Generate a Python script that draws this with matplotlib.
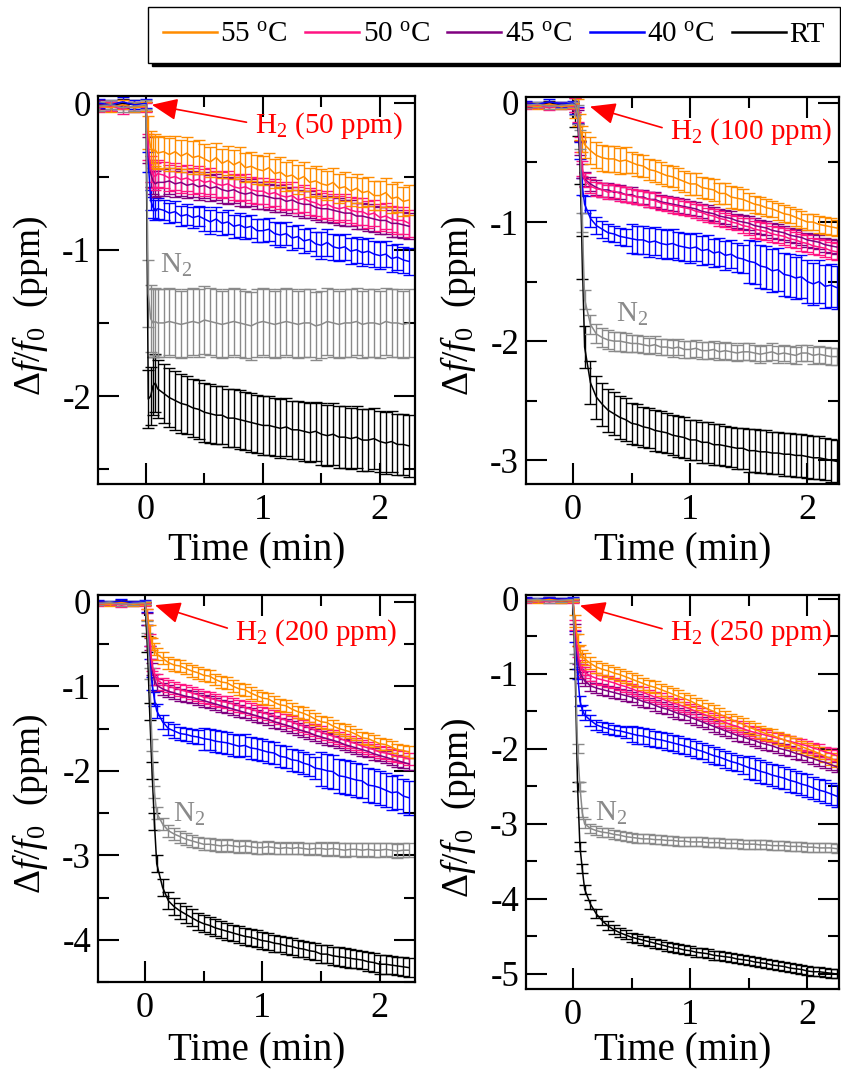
import numpy as np
import matplotlib
matplotlib.use('Agg')
import matplotlib.pyplot as plt
from matplotlib.lines import Line2D
from matplotlib.ticker import MultipleLocator

plt.rcParams['font.family'] = ['Liberation Serif', 'DejaVu Serif']
plt.rcParams['mathtext.fontset'] = 'custom'
plt.rcParams['mathtext.rm'] = 'Liberation Serif'
plt.rcParams['mathtext.it'] = 'Liberation Serif:italic'
plt.rcParams['mathtext.bf'] = 'Liberation Serif:bold'
plt.rcParams['axes.unicode_minus'] = False

# ---------------- data ----------------
T_PRE = [-0.40, -0.30, -0.20, -0.10, 0.00]
T_DROP = [0.02, 0.04, 0.06, 0.08, 0.10]
T_MAIN = [0.15, 0.20, 0.25, 0.30, 0.35, 0.40, 0.45, 0.50, 0.55, 0.60,
          0.65, 0.70, 0.75, 0.80, 0.85, 0.90, 0.95, 1.00, 1.05, 1.10,
          1.15, 1.20, 1.25, 1.30, 1.35, 1.40, 1.45, 1.50, 1.55, 1.60,
          1.65, 1.70, 1.75, 1.80, 1.85, 1.90, 1.95, 2.00, 2.05, 2.10,
          2.15, 2.20, 2.25]

PRE_55 = [-0.02, -0.03, -0.01, -0.03, -0.02]
PRE_50 = [-0.03, -0.02, -0.04, -0.02, -0.03]
PRE_45 = [-0.01, -0.02, -0.01, -0.03, -0.02]
PRE_40 = [0.00, -0.01, 0.01, -0.01, 0.00]
PRE_RT = [-0.01, -0.02, 0.00, -0.01, -0.02]
PRE_N2 = [-0.02, -0.01, -0.03, -0.02, -0.01]

# Panel 1: H2 50 ppm  (drop points + main points)
P1_55 = [-0.20, -0.30, -0.33, -0.32, -0.34,
         -0.33, -0.35, -0.33, -0.36, -0.34, -0.37, -0.36, -0.38, -0.40, -0.37,
         -0.41, -0.39, -0.42, -0.40, -0.44, -0.43, -0.45, -0.46, -0.44, -0.48,
         -0.47, -0.50, -0.49, -0.52, -0.50, -0.54, -0.53, -0.55, -0.56, -0.54,
         -0.58, -0.57, -0.60, -0.58, -0.61, -0.60, -0.63, -0.63, -0.61, -0.65,
         -0.64, -0.67, -0.66]
P1_50 = [-0.30, -0.45, -0.49, -0.50, -0.48,
         -0.49, -0.51, -0.50, -0.52, -0.51, -0.53, -0.52, -0.54, -0.53, -0.55,
         -0.56, -0.55, -0.57, -0.58, -0.57, -0.59, -0.60, -0.60, -0.62, -0.61,
         -0.63, -0.64, -0.63, -0.66, -0.65, -0.67, -0.68, -0.70, -0.69, -0.71,
         -0.72, -0.71, -0.73, -0.74, -0.74, -0.76, -0.75, -0.78, -0.77, -0.79,
         -0.80, -0.80, -0.82]
P1_45 = [-0.32, -0.48, -0.53, -0.55, -0.54,
         -0.54, -0.53, -0.55, -0.54, -0.56, -0.55, -0.57, -0.56, -0.58, -0.57,
         -0.59, -0.60, -0.59, -0.61, -0.62, -0.61, -0.63, -0.63, -0.64, -0.65,
         -0.65, -0.67, -0.66, -0.68, -0.69, -0.69, -0.71, -0.72, -0.72, -0.73,
         -0.74, -0.75, -0.75, -0.77, -0.77, -0.78, -0.79, -0.80, -0.80, -0.82,
         -0.82, -0.83, -0.84]
P1_40 = [-0.40, -0.66, -0.71, -0.73, -0.72,
         -0.73, -0.75, -0.74, -0.77, -0.76, -0.78, -0.77, -0.79, -0.81, -0.79,
         -0.82, -0.81, -0.84, -0.83, -0.85, -0.84, -0.87, -0.87, -0.86, -0.89,
         -0.90, -0.89, -0.92, -0.91, -0.94, -0.93, -0.96, -0.97, -0.95, -0.98,
         -0.99, -0.98, -1.01, -1.00, -1.02, -1.01, -1.03, -1.04, -1.03, -1.06,
         -1.05, -1.07, -1.08]
P1_RT = [-2.02, -2.00, -1.93, -1.91, -1.95,
         -1.98, -2.01, -2.03, -2.05, -2.06, -2.08, -2.09, -2.11, -2.12, -2.13,
         -2.13, -2.15, -2.15, -2.16, -2.17, -2.18, -2.19, -2.20, -2.20, -2.21,
         -2.22, -2.21, -2.23, -2.23, -2.24, -2.25, -2.24, -2.26, -2.27, -2.26,
         -2.28, -2.28, -2.29, -2.28, -2.30, -2.30, -2.29, -2.31, -2.32, -2.31,
         -2.33, -2.33, -2.34]
P1_N2 = [-1.30, -1.47, -1.50, -1.49, -1.50,
         -1.50, -1.49, -1.50, -1.51, -1.50, -1.49, -1.50, -1.48, -1.49, -1.50,
         -1.51, -1.50, -1.49, -1.50, -1.51, -1.52, -1.50, -1.49, -1.50, -1.51,
         -1.50, -1.49, -1.50, -1.51, -1.50, -1.50, -1.52, -1.51, -1.49, -1.50,
         -1.51, -1.50, -1.50, -1.49, -1.51, -1.50, -1.50, -1.51, -1.49, -1.50,
         -1.50, -1.51, -1.50]

# Panel 2: H2 100 ppm
P2_55 = [-0.02, -0.08, -0.20, -0.30, -0.35,
         -0.40, -0.44, -0.46, -0.47, -0.47, -0.49, -0.48, -0.50, -0.52, -0.53,
         -0.56, -0.57, -0.59, -0.61, -0.62, -0.64, -0.66, -0.68, -0.68, -0.71,
         -0.72, -0.73, -0.76, -0.76, -0.79, -0.80, -0.81, -0.83, -0.85, -0.86,
         -0.88, -0.89, -0.91, -0.93, -0.94, -0.96, -0.98, -1.00, -1.00, -1.02,
         -1.03, -1.04, -1.05]
P2_50 = [-0.02, -0.10, -0.35, -0.55, -0.65,
         -0.70, -0.72, -0.73, -0.75, -0.74, -0.76, -0.77, -0.78, -0.79, -0.80,
         -0.81, -0.82, -0.84, -0.85, -0.86, -0.87, -0.88, -0.89, -0.91, -0.92,
         -0.94, -0.95, -0.97, -0.98, -1.00, -1.01, -1.03, -1.04, -1.06, -1.07,
         -1.08, -1.10, -1.11, -1.12, -1.14, -1.15, -1.17, -1.18, -1.20, -1.21,
         -1.22, -1.24, -1.25]
P2_45 = [-0.02, -0.12, -0.38, -0.57, -0.64,
         -0.68, -0.71, -0.73, -0.73, -0.75, -0.75, -0.77, -0.77, -0.79, -0.79,
         -0.81, -0.81, -0.83, -0.84, -0.85, -0.86, -0.87, -0.88, -0.89, -0.91,
         -0.92, -0.93, -0.95, -0.96, -0.97, -0.99, -1.00, -1.01, -1.03, -1.04,
         -1.05, -1.07, -1.08, -1.09, -1.11, -1.12, -1.13, -1.15, -1.16, -1.17,
         -1.19, -1.20, -1.21]
P2_40 = [-0.02, -0.10, -0.40, -0.70, -0.85,
         -0.97, -1.03, -1.06, -1.09, -1.10, -1.12, -1.13, -1.14, -1.15, -1.15,
         -1.17, -1.16, -1.18, -1.19, -1.18, -1.20, -1.21, -1.22, -1.21, -1.24,
         -1.23, -1.26, -1.25, -1.28, -1.27, -1.30, -1.31, -1.33, -1.34, -1.37,
         -1.38, -1.41, -1.40, -1.44, -1.45, -1.47, -1.46, -1.50, -1.52, -1.50,
         -1.54, -1.53, -1.55]
P2_RT = [-0.02, -0.10, -0.50, -1.30, -2.05,
         -2.35, -2.47, -2.53, -2.58, -2.61, -2.64, -2.66, -2.69, -2.70, -2.72,
         -2.73, -2.75, -2.76, -2.77, -2.79, -2.80, -2.81, -2.83, -2.83, -2.85,
         -2.85, -2.87, -2.87, -2.88, -2.89, -2.90, -2.90, -2.92, -2.92, -2.93,
         -2.93, -2.94, -2.94, -2.95, -2.95, -2.96, -2.96, -2.97, -2.98, -2.98,
         -2.99, -3.00, -3.01]
P2_N2 = [-0.02, -0.10, -0.31, -1.00, -1.65,
         -1.86, -1.94, -1.97, -1.99, -2.00, -2.00, -2.01, -2.02, -2.02, -2.03,
         -2.04, -2.03, -2.05, -2.05, -2.06, -2.05, -2.07, -2.07, -2.06, -2.08,
         -2.08, -2.07, -2.09, -2.08, -2.09, -2.10, -2.09, -2.09, -2.10, -2.11,
         -2.10, -2.09, -2.11, -2.10, -2.11, -2.12, -2.10, -2.10, -2.12, -2.11,
         -2.12, -2.13, -2.13]

# Panel 3: H2 200 ppm
P3_55 = [-0.15, -0.35, -0.50, -0.56, -0.62,
         -0.67, -0.72, -0.75, -0.76, -0.79, -0.82, -0.84, -0.87, -0.88, -0.92,
         -0.95, -0.96, -1.00, -1.03, -1.04, -1.08, -1.11, -1.14, -1.15, -1.19,
         -1.22, -1.23, -1.27, -1.30, -1.32, -1.35, -1.39, -1.42, -1.43, -1.47,
         -1.50, -1.52, -1.54, -1.57, -1.61, -1.62, -1.65, -1.68, -1.69, -1.72,
         -1.75, -1.76, -1.78]
P3_50 = [-0.15, -0.45, -0.75, -0.85, -0.92,
         -0.97, -1.00, -1.02, -1.04, -1.06, -1.08, -1.10, -1.13, -1.14, -1.16,
         -1.18, -1.19, -1.21, -1.23, -1.25, -1.27, -1.29, -1.31, -1.33, -1.35,
         -1.38, -1.40, -1.42, -1.45, -1.47, -1.49, -1.52, -1.54, -1.57, -1.59,
         -1.61, -1.64, -1.66, -1.68, -1.71, -1.73, -1.75, -1.78, -1.79, -1.81,
         -1.83, -1.84, -1.86]
P3_45 = [-0.20, -0.50, -0.80, -0.92, -0.99,
         -1.03, -1.06, -1.08, -1.10, -1.12, -1.13, -1.15, -1.17, -1.19, -1.21,
         -1.23, -1.25, -1.27, -1.29, -1.31, -1.33, -1.35, -1.37, -1.39, -1.42,
         -1.44, -1.46, -1.48, -1.51, -1.53, -1.55, -1.58, -1.60, -1.62, -1.64,
         -1.66, -1.69, -1.71, -1.73, -1.75, -1.77, -1.80, -1.82, -1.84, -1.86,
         -1.88, -1.90, -1.92]
P3_40 = [-0.20, -0.60, -0.97, -1.15, -1.29,
         -1.42, -1.50, -1.53, -1.56, -1.57, -1.59, -1.60, -1.62, -1.63, -1.65,
         -1.66, -1.67, -1.69, -1.71, -1.70, -1.73, -1.74, -1.76, -1.78, -1.79,
         -1.83, -1.84, -1.87, -1.88, -1.91, -1.93, -1.97, -1.98, -2.00, -2.01,
         -2.06, -2.07, -2.09, -2.11, -2.12, -2.17, -2.18, -2.20, -2.23, -2.26,
         -2.25, -2.30, -2.32]
P3_RT = [-0.50, -1.30, -2.00, -2.60, -3.10,
         -3.38, -3.54, -3.61, -3.66, -3.70, -3.74, -3.78, -3.81, -3.83, -3.86,
         -3.88, -3.90, -3.92, -3.94, -3.96, -3.97, -3.99, -4.01, -4.02, -4.04,
         -4.05, -4.07, -4.08, -4.10, -4.11, -4.13, -4.14, -4.17, -4.17, -4.19,
         -4.20, -4.21, -4.22, -4.23, -4.24, -4.26, -4.27, -4.29, -4.29, -4.30,
         -4.31, -4.32, -4.33]
P3_N2 = [-0.30, -0.85, -1.70, -2.25, -2.50,
         -2.63, -2.71, -2.75, -2.78, -2.81, -2.83, -2.85, -2.87, -2.87, -2.88,
         -2.89, -2.88, -2.89, -2.90, -2.89, -2.90, -2.91, -2.91, -2.90, -2.91,
         -2.92, -2.91, -2.92, -2.91, -2.92, -2.93, -2.92, -2.92, -2.93, -2.92,
         -2.93, -2.94, -2.93, -2.93, -2.94, -2.93, -2.94, -2.94, -2.93, -2.94,
         -2.95, -2.94, -2.94]

# Panel 4: H2 250 ppm
P4_55 = [-0.30, -0.55, -0.70, -0.76, -0.80,
         -0.86, -0.91, -0.94, -0.96, -0.99, -1.01, -1.04, -1.07, -1.10, -1.13,
         -1.16, -1.18, -1.21, -1.24, -1.27, -1.30, -1.33, -1.36, -1.40, -1.43,
         -1.47, -1.50, -1.54, -1.57, -1.61, -1.64, -1.67, -1.71, -1.74, -1.77,
         -1.80, -1.82, -1.85, -1.88, -1.91, -1.94, -1.97, -2.00, -2.03, -2.06,
         -2.10, -2.13, -2.16]
P4_50 = [-0.35, -0.70, -0.88, -0.94, -0.98,
         -1.03, -1.06, -1.08, -1.10, -1.12, -1.15, -1.17, -1.20, -1.23, -1.25,
         -1.28, -1.31, -1.33, -1.36, -1.39, -1.41, -1.44, -1.47, -1.50, -1.53,
         -1.56, -1.59, -1.62, -1.65, -1.68, -1.70, -1.73, -1.76, -1.78, -1.80,
         -1.82, -1.84, -1.86, -1.88, -1.90, -1.92, -1.94, -1.96, -1.99, -2.01,
         -2.04, -2.06, -2.09]
P4_45 = [-0.40, -0.80, -0.98, -1.05, -1.09,
         -1.16, -1.19, -1.21, -1.23, -1.25, -1.27, -1.29, -1.31, -1.34, -1.37,
         -1.39, -1.42, -1.45, -1.47, -1.50, -1.53, -1.55, -1.58, -1.61, -1.64,
         -1.67, -1.70, -1.73, -1.76, -1.79, -1.82, -1.84, -1.87, -1.89, -1.92,
         -1.94, -1.96, -1.99, -2.01, -2.03, -2.06, -2.08, -2.11, -2.13, -2.16,
         -2.18, -2.21, -2.24]
P4_40 = [-0.50, -1.00, -1.36, -1.48, -1.55,
         -1.62, -1.68, -1.71, -1.73, -1.75, -1.76, -1.78, -1.80, -1.82, -1.83,
         -1.85, -1.87, -1.88, -1.90, -1.92, -1.94, -1.96, -1.98, -2.01, -2.03,
         -2.06, -2.09, -2.11, -2.14, -2.17, -2.19, -2.22, -2.25, -2.27, -2.30,
         -2.32, -2.35, -2.37, -2.39, -2.42, -2.44, -2.47, -2.49, -2.52, -2.55,
         -2.57, -2.60, -2.63]
P4_RT = [-1.00, -2.50, -3.30, -3.60, -3.87,
         -4.07, -4.20, -4.29, -4.36, -4.41, -4.45, -4.48, -4.51, -4.53, -4.55,
         -4.57, -4.59, -4.61, -4.63, -4.65, -4.66, -4.68, -4.69, -4.71, -4.72,
         -4.73, -4.75, -4.76, -4.77, -4.78, -4.80, -4.81, -4.82, -4.84, -4.85,
         -4.86, -4.88, -4.89, -4.90, -4.92, -4.93, -4.94, -4.96, -4.97, -4.97,
         -4.98, -4.99, -5.00]
P4_N2 = [-0.80, -2.00, -2.50, -2.85, -3.00,
         -3.06, -3.09, -3.11, -3.12, -3.14, -3.15, -3.17, -3.18, -3.19, -3.20,
         -3.20, -3.21, -3.21, -3.22, -3.22, -3.23, -3.23, -3.24, -3.24, -3.24,
         -3.25, -3.25, -3.25, -3.26, -3.26, -3.26, -3.27, -3.27, -3.27, -3.28,
         -3.28, -3.29, -3.29, -3.29, -3.30, -3.30, -3.30, -3.31, -3.31, -3.32,
         -3.32, -3.32, -3.33]

# error half-widths: (pre, t<0.5, 0.5<=t<1.5, t>=1.5)
E1 = {'55': (0.03, 0.11, 0.10, 0.10), '50': (0.03, 0.09, 0.09, 0.09),
      '45': (0.03, 0.09, 0.09, 0.09), '40': (0.03, 0.07, 0.08, 0.09),
      'RT': (0.03, 0.20, 0.20, 0.21), 'N2': (0.03, 0.23, 0.23, 0.23)}
E2 = {'55': (0.02, 0.11, 0.09, 0.07), '50': (0.02, 0.06, 0.06, 0.07),
      '45': (0.02, 0.06, 0.06, 0.06), '40': (0.02, 0.07, 0.12, 0.18),
      'RT': (0.02, 0.18, 0.17, 0.18), 'N2': (0.02, 0.08, 0.07, 0.07)}
E3 = {'55': (0.02, 0.07, 0.07, 0.07), '50': (0.02, 0.07, 0.07, 0.07),
      '45': (0.02, 0.07, 0.07, 0.07), '40': (0.02, 0.08, 0.13, 0.20),
      'RT': (0.02, 0.10, 0.10, 0.11), 'N2': (0.02, 0.07, 0.07, 0.08)}
E4 = {'55': (0.02, 0.08, 0.08, 0.08), '50': (0.02, 0.07, 0.07, 0.07),
      '45': (0.02, 0.07, 0.07, 0.07), '40': (0.02, 0.07, 0.11, 0.15),
      'RT': (0.02, 0.06, 0.06, 0.06), 'N2': (0.02, 0.06, 0.06, 0.06)}

CONC_LABELS = ['H$_{\\rm 2}$ (50 ppm)', 'H$_{\\rm 2}$ (100 ppm)',
               'H$_{\\rm 2}$ (200 ppm)', 'H$_{\\rm 2}$ (250 ppm)']
LEGEND_LABELS = ['55 $^{\\rm o}$C', '50 $^{\\rm o}$C', '45 $^{\\rm o}$C',
                 '40 $^{\\rm o}$C', 'RT']
Y_TICKS = [[0, -1, -2], [0, -1, -2, -3], [0, -1, -2, -3, -4], [0, -1, -2, -3, -4, -5]]
X_TICKS = [0, 1, 2]

# ---------------- style ----------------
COLORS = {'55': '#FF8C00', '50': '#FF1482', '45': '#800080',
          '40': '#0000FF', 'RT': '#000000', 'N2': '#8A8A8A'}
PRE = {'55': PRE_55, '50': PRE_50, '45': PRE_45, '40': PRE_40,
       'RT': PRE_RT, 'N2': PRE_N2}
PANELS = [
    dict(series={'55': P1_55, '50': P1_50, '45': P1_45, '40': P1_40, 'RT': P1_RT, 'N2': P1_N2},
         err=E1, rect=[98, 96, 415, 484], xlim=(-0.41, 2.30), ylim=(-2.60, 0.05),
         tip=(0.05, -0.01), txt=(0.93, -0.15), n2=(0.12, -1.16), xl=-0.125),
    dict(series={'55': P2_55, '50': P2_50, '45': P2_45, '40': P2_40, 'RT': P2_RT, 'N2': P2_N2},
         err=E2, rect=[526, 97, 839, 484], xlim=(-0.40, 2.27), ylim=(-3.20, 0.05),
         tip=(0.145, -0.03), txt=(0.83, -0.24), n2=(0.37, -1.84), xl=-0.125),
    dict(series={'55': P3_55, '50': P3_50, '45': P3_45, '40': P3_40, 'RT': P3_RT, 'N2': P3_N2},
         err=E3, rect=[98, 595, 415, 982], xlim=(-0.40, 2.30), ylim=(-4.50, 0.08),
         tip=(0.085, -0.04), txt=(0.77, -0.36), n2=(0.24, -2.61), xl=-0.13),
    dict(series={'55': P4_55, '50': P4_50, '45': P4_45, '40': P4_40, 'RT': P4_RT, 'N2': P4_N2},
         err=E4, rect=[526, 595, 839, 989], xlim=(-0.40, 2.27), ylim=(-5.20, 0.05),
         tip=(0.06, -0.09), txt=(0.83, -0.45), n2=(0.19, -2.96), xl=-0.11),
]
DRAW_ORDER = ['RT', '40', '45', '50', '55', 'N2']

W, H = 841, 1072
fig = plt.figure(figsize=(W / 100, H / 100), dpi=100)

t_all = np.array(T_PRE + T_DROP + T_MAIN)

for i, p in enumerate(PANELS):
    l, tp, r, b = p['rect']
    ax = fig.add_axes([l / W, 1 - b / H, (r - l) / W, (b - tp) / H])
    for key in DRAW_ORDER:
        y = np.array(PRE[key] + p['series'][key])
        e = p['err'][key]
        yerr = np.where(t_all <= 0, e[0],
                        np.where(t_all < 0.5, e[1],
                                 np.where(t_all < 1.5, e[2], e[3])))
        ax.errorbar(t_all, y, yerr=yerr, color=COLORS[key], lw=1.1,
                    elinewidth=1.0, capsize=4.5, capthick=1.0)
    ax.set_xlim(*p['xlim'])
    ax.set_ylim(*p['ylim'])
    ax.set_xticks(X_TICKS)
    ax.set_yticks(Y_TICKS[i])
    ax.xaxis.set_minor_locator(MultipleLocator(0.5))
    ax.yaxis.set_minor_locator(MultipleLocator(0.5))
    ax.tick_params(which='both', direction='in', top=True, right=True, width=1.5)
    ax.tick_params(which='major', length=15)
    ax.tick_params(which='minor', length=8)
    ax.tick_params(axis='x', labelsize=26, pad=7)
    ax.tick_params(axis='y', labelsize=25, pad=5)
    for s in ax.spines.values():
        s.set_linewidth(1.6)
    ax.set_xlabel('Time (min)', fontsize=28)
    ax.set_ylabel('$\\Delta f/f_0$  (ppm)', fontsize=27)
    ax.xaxis.set_label_coords(0.5, p['xl'])
    ax.yaxis.set_label_coords(-0.152, 0.46)
    ax.annotate(CONC_LABELS[i], xy=p['tip'], xytext=p['txt'], textcoords='data',
                color='red', fontsize=21, ha='left', va='center',
                arrowprops=dict(arrowstyle='-|>,head_length=0.75,head_width=0.32',
                                color='red', lw=1.2, shrinkA=4, shrinkB=0,
                                relpos=(0.0, 0.55)))
    ax.text(p['n2'][0], p['n2'][1], 'N$_{\\rm 2}$', color=COLORS['N2'],
            fontsize=21, ha='left', va='baseline')

handles = [Line2D([], [], color=COLORS[k], lw=1.8) for k in ['55', '50', '45', '40', 'RT']]
fig.legend(handles, LEGEND_LABELS, loc='upper right',
           bbox_to_anchor=(839.5 / W, 1 - 7 / H), ncol=5, frameon=True,
           fancybox=False, edgecolor='black', framealpha=1, fontsize=21,
           handlelength=1.85, handletextpad=0.12, columnspacing=0.6,
           borderpad=0.5, borderaxespad=0,
           shadow={'color': 'black', 'alpha': 1, 'ox': 2.5, 'oy': -2.5})

fig.savefig('out.png', dpi=100)
